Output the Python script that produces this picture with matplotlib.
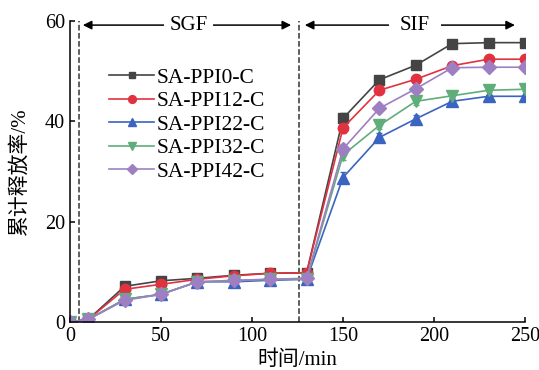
import numpy as np
import matplotlib.pyplot as plt
from matplotlib.lines import Line2D

plt.rcParams['font.family'] = ['Liberation Serif', 'Noto Sans CJK SC']
plt.rcParams['font.size'] = 14

# Data
t = [0, 10, 30, 50, 70, 90, 110, 130, 150, 170, 190, 210, 230, 250]
ppi0 = [0, 0.5, 7.1, 8.2, 8.7, 9.3, 9.7, 9.8, 40.6, 48.3, 51.2, 55.5, 55.7, 55.7]
ppi12 = [0, 0.5, 6.5, 7.5, 8.5, 9.2, 9.7, 9.8, 38.7, 46.2, 48.4, 51.1, 52.4, 52.4]
ppi22 = [0, 0.5, 4.5, 5.5, 8.0, 8.0, 8.3, 8.5, 28.8, 36.8, 40.5, 44.0, 45.0, 45.0]
ppi32 = [0, 0.5, 4.5, 5.5, 8.0, 8.2, 8.5, 8.5, 33.3, 39.2, 44.0, 45.1, 46.2, 46.4]
ppi42 = [0, 0.5, 4.3, 5.5, 8.0, 8.3, 8.5, 8.7, 34.5, 42.6, 46.5, 50.7, 50.8, 50.8]
err = [0, 0, 0.3, 0.3, 0.3, 0.4, 0.4, 0.4, 1.0, 0.8, 0.8, 0.4, 0.3, 0.3]

labels = ['SA-PPI0-C', 'SA-PPI12-C', 'SA-PPI22-C', 'SA-PPI32-C', 'SA-PPI42-C']
series = [ppi0, ppi12, ppi22, ppi32, ppi42]
colors = ['#444444', '#e0323f', '#3a64bf', '#5fae7a', '#9e80c2']
markers = ['s', 'o', '^', 'v', 'D']
msizes = [6.5, 7.5, 8.5, 8.5, 7]

fig = plt.figure(figsize=(5.39, 3.70), dpi=100)
ax = fig.add_axes([0.13, 0.13, 0.844, 0.813])

handles = []
for y, lab, c, m, ms in zip(series, labels, colors, markers, msizes):
    ax.errorbar(t, y, yerr=err, color=c, marker=m, markersize=ms, lw=1.2,
                capsize=2, elinewidth=0.8)
    handles.append(Line2D([], [], color=c, marker=m, markersize=ms * 0.75,
                          lw=1.2, label=lab))

# SGF / SIF boundaries
ax.axvline(5, color='#333333', ls='--', lw=1.1)
ax.axvline(126, color='#333333', ls='--', lw=1.1)

arrow = dict(arrowstyle='<|-|>', color='black', lw=1.1, mutation_scale=13)
ax.annotate('', xy=(5.5, 59.2), xytext=(123, 59.2), arrowprops=arrow)
ax.annotate('', xy=(127.5, 59.2), xytext=(246, 59.2), arrowprops=arrow)
ax.text(65, 59.2, 'SGF', ha='center', va='center', fontsize=15,
        bbox=dict(facecolor='white', edgecolor='none', pad=4))
ax.text(189.5, 59.2, 'SIF', ha='center', va='center', fontsize=15,
        bbox=dict(facecolor='white', edgecolor='none', pad=8))

ax.set_xlim(0, 250)
ax.set_ylim(0, 60)
ax.set_xticks([0, 50, 100, 150, 200, 250])
ax.set_yticks([0, 20, 40, 60])
ax.tick_params(direction='in', labelsize=14.5, width=1.1)
ax.spines['top'].set_visible(False)
ax.spines['right'].set_visible(False)
ax.spines['left'].set_linewidth(1.1)
ax.spines['bottom'].set_linewidth(1.1)

ax.set_xlabel('时间/min', fontsize=15, labelpad=3)
ax.set_ylabel('累计释放率/%', fontsize=15, labelpad=11)

ax.legend(handles=handles, loc='upper left', bbox_to_anchor=(0.067, 0.874),
          frameon=False, fontsize=15.5, handlelength=2.1, handletextpad=0.1,
          labelspacing=0.16, borderaxespad=0)

fig.savefig('out.png', dpi=100)
